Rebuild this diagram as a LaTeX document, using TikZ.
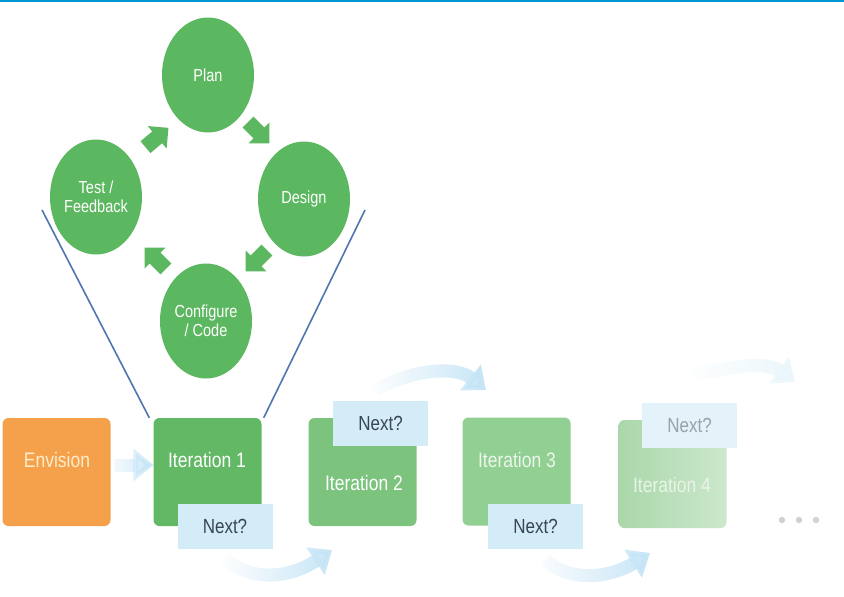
\documentclass[tikz,border=0pt]{standalone}
\usepackage{fontspec}
\usepackage{graphicx}
\setmainfont{Liberation Sans}
\usetikzlibrary{shapes.geometric,shapes.arrows,arrows.meta,fadings}

% palette
\definecolor{topline}{RGB}{0,150,210}
\definecolor{phasegreen}{RGB}{92,184,96}
\definecolor{envorange}{RGB}{245,160,74}
\definecolor{iterA}{RGB}{98,184,100}
\definecolor{iterB}{RGB}{124,196,126}
\definecolor{iterC}{RGB}{146,207,146}
\definecolor{iterDl}{RGB}{170,215,170}
\definecolor{iterDr}{RGB}{204,232,204}
\definecolor{nextblue}{RGB}{212,235,248}
\definecolor{nextfaint}{RGB}{228,242,250}
\definecolor{nexttext}{RGB}{55,70,85}
\definecolor{flowblue}{RGB}{196,228,246}
\definecolor{funnel}{RGB}{78,118,176}
\definecolor{dotgray}{RGB}{205,210,214}

% text set slightly taller than wide
\newcommand{\tallbox}[1]{\scalebox{1}[1.2]{#1}}

\tikzfading[name=fadeinright, left color=transparent!100, right color=transparent!0]

\tikzset{
  phase/.style={ellipse, fill=phasegreen, minimum width=92pt, minimum height=115pt,
    inner sep=0pt, text=white, align=center, font=\fontsize{14.5}{19}\selectfont},
  cyclearrow/.style={single arrow, fill=phasegreen, minimum height=30pt,
    inner xsep=0pt, inner ysep=7.5pt, single arrow head extend=7pt,
    single arrow head indent=0pt},
  stagebox/.style={rectangle, rounded corners=6pt, minimum width=108pt,
    minimum height=108pt, inner sep=0pt},
  stagetext/.style={text=white, font=\fontsize{17.5}{20}\selectfont},
  nextbox/.style={rectangle, fill=nextblue, minimum width=95pt,
    minimum height=45pt, inner sep=0pt, text=nexttext,
    font=\fontsize{17}{20}\selectfont},
  flow/.style={draw=flowblue, line width=13pt,
    -{Triangle[width=32pt,length=20pt]}, path fading=fadeinright},
  funnelline/.style={draw=funnel, line width=1.6pt}
}

\begin{document}
\begin{tikzpicture}[x=1pt,y=-1pt]
\useasboundingbox (0,0) rectangle (844,597);
\fill[white] (0,0) rectangle (844,597);
\draw[draw=topline, line width=2pt] (0,1) -- (844,1);

% the iteration cycle
\node[phase] (plan)   at (208,75)  {\tallbox{Plan}};
\node[phase] (design) at (304,199) {\tallbox{Design}};
\node[phase] (config) at (206,321) {\tallbox{Configure}\\\tallbox{/ Code}};
\node[phase] (test)   at (96,197)  {\tallbox{Test /}\\\tallbox{Feedback}};

\node[cyclearrow, rotate=40]   (a1) at (154,140) {};
\node[cyclearrow, rotate=-45]  (a2) at (256,130) {};
\node[cyclearrow, rotate=-135] (a3) at (259,258) {};
\node[cyclearrow, rotate=135]  (a4) at (158,261) {};

% stages
\node[stagebox, fill=envorange] (env) at (56.5,472) {};
\node[text={rgb,255:red,252;green,238;blue,205}, font=\fontsize{17.5}{20}\selectfont] (envt) at (57,460) {\tallbox{Envision}};

\node[stagebox, fill=iterA] (it1) at (207.5,472) {};
\node[stagetext] (it1t) at (207,460) {\tallbox{Iteration 1}};

\node[stagebox, fill=iterB] (it2) at (362.5,472) {};
\node[stagetext] (it2t) at (364,483) {\tallbox{Iteration 2}};

\node[stagebox, fill=iterC] (it3) at (516.5,471.5) {};
\node[stagetext, text={rgb,255:red,236;green,246;blue,236}] (it3t) at (517,460) {\tallbox{Iteration 3}};

\node[stagebox, left color=iterDl, right color=iterDr] (it4) at (672.5,474) {};
\node[stagetext, text={rgb,255:red,232;green,244;blue,232}] (it4t) at (672,485) {\tallbox{Iteration 4}};

% funnel from the cycle down to the first iteration
\coordinate (fl) at (42,210);
\coordinate (fr) at (365,210);
\draw[funnelline] (fl) -- ([xshift=-4pt]it1.north west);
\draw[funnelline] (fr) -- ([xshift=2pt]it1.north east);

% "Next?" tags
\node[nextbox] (n1) at (225,526) {\tallbox{Next?}};
\node[nextbox] (n2) at (380.5,423) {\tallbox{Next?}};
\node[nextbox] (n3) at (535.5,526) {\tallbox{Next?}};
\node[nextbox, fill=nextfaint, text={rgb,255:red,150;green,162;blue,172}] (n4) at (689.5,425.5) {\tallbox{Next?}};

% flow arrows between stages
\draw[flow] (env.east) ++(3,-7) -- (it1.west |- 0,465);
\draw[flow] (n1.south) ++(0,10) .. controls (255,585) and (295,575) .. (332,550);
\draw[flow] (n2.north) ++(-5,-10) .. controls (410,370) and (455,365) .. (486,390);
\draw[flow] (n3.south) ++(10,12) .. controls (575,585) and (615,575) .. (650,553);
\draw[flow, draw=flowblue!35] (n4.north) ++(5,-28) .. controls (725,368) and (765,360) .. (795,382);

% ellipsis
\fill[dotgray] (782,520) circle (3.2pt) coordinate (d1);
\fill[dotgray] (799,520) circle (3.2pt) coordinate (d2);
\fill[dotgray] (816,520) circle (3.2pt) coordinate (d3);
\end{tikzpicture}
\end{document}
